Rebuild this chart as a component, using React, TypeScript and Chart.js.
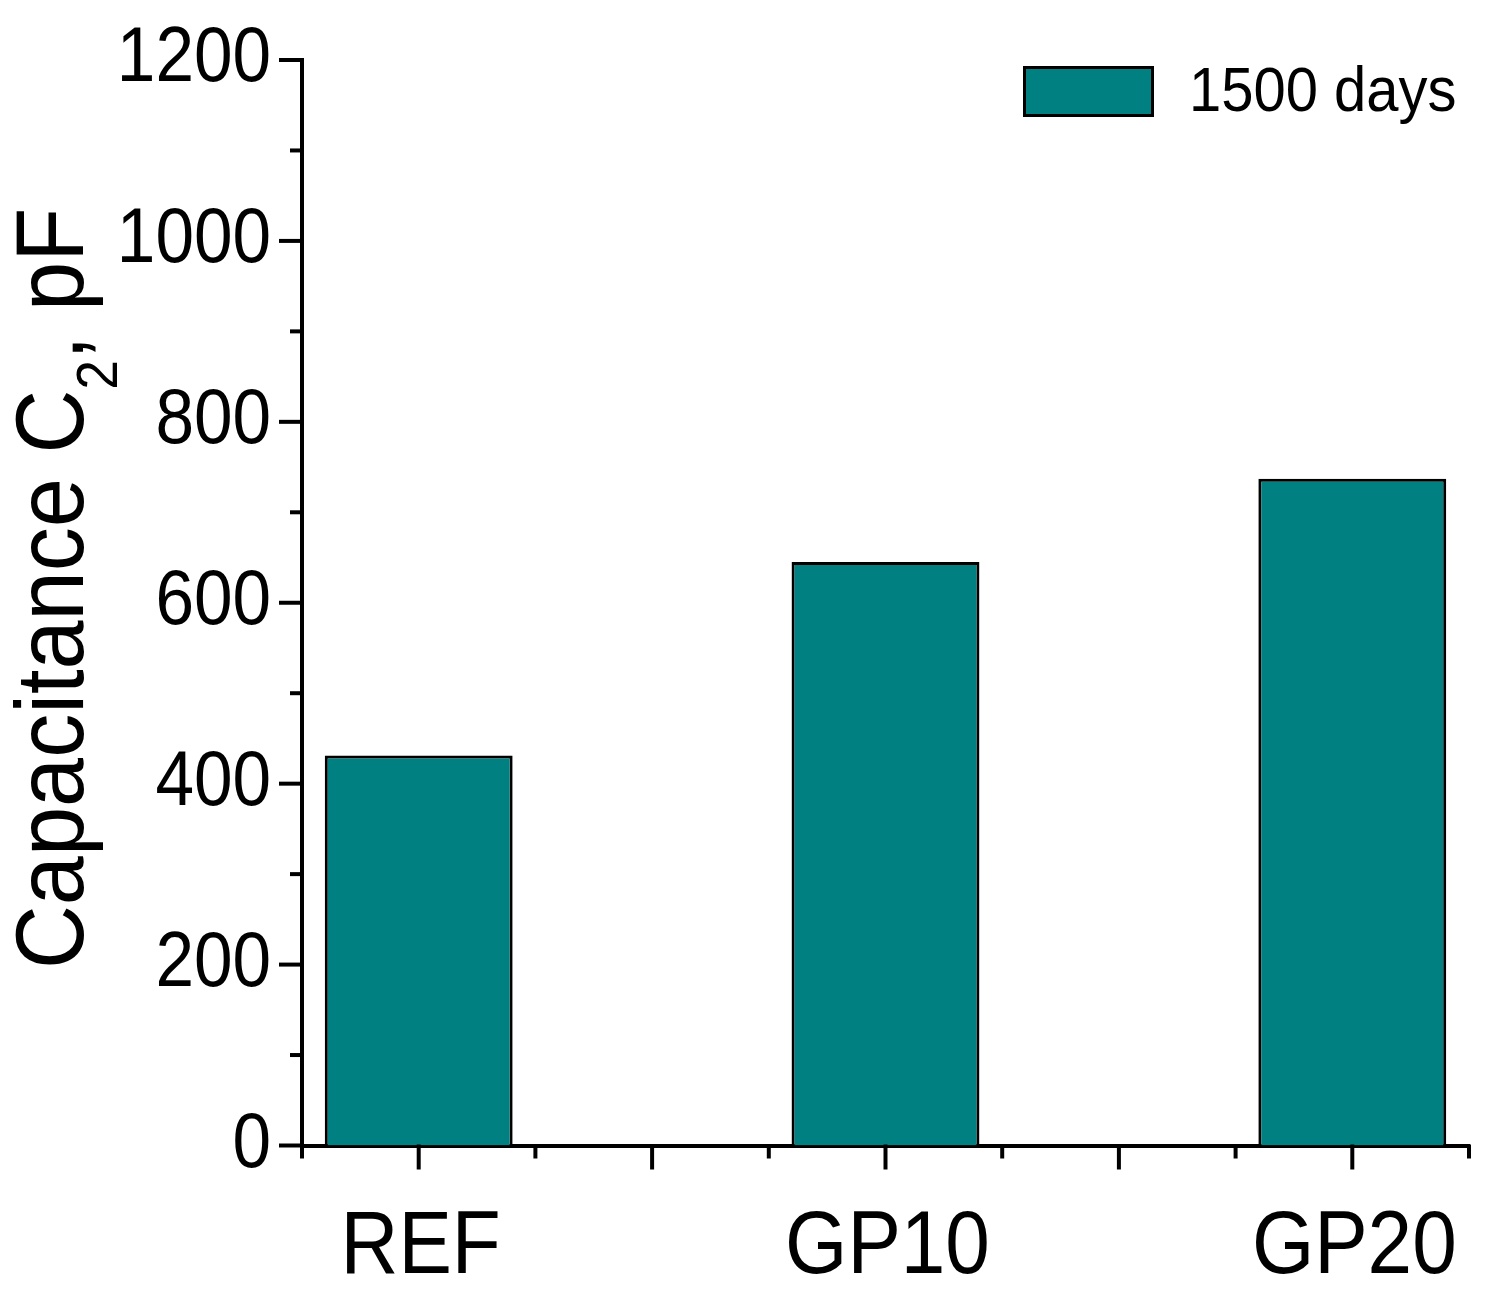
import React, { useEffect, useRef } from "react";
import { Chart, registerables } from "chart.js";

Chart.register(...registerables);

// data
const categories = ["REF", "GP10", "GP20"];
const categoryPositions = [1, 3, 5];
const capacitance = [431, 645, 737];
const seriesLabel = "1500 days";

const X_MIN = 0.5;
const X_MAX = 5.5;
const Y_MIN = 0;
const Y_MAX = 1200;
const Y_MAJOR = 200;
const Y_MINOR = 100;

const FONT = "'Liberation Sans', Arial, Helvetica, sans-serif";
const BAR_COLOR = "#008080";
const AXIS_W = 4;

// Origin-style axes: major/minor ticks, squeezed Arial labels, subscript title
const decorPlugin = {
  id: "originDecor",
  afterDraw(chart: any) {
    const { ctx, chartArea } = chart;
    const xs = chart.scales.x;
    const ys = chart.scales.y;
    const axisX = chartArea.left;
    const axisY = chartArea.bottom;

    ctx.save();
    ctx.strokeStyle = "#000";
    ctx.lineWidth = AXIS_W;
    ctx.lineCap = "butt";

    // y ticks
    for (let v = Y_MIN; v <= Y_MAX; v += Y_MINOR) {
      const py = ys.getPixelForValue(v);
      const len = v % Y_MAJOR === 0 ? 23 : 12;
      ctx.beginPath();
      ctx.moveTo(axisX + 1, py);
      ctx.lineTo(axisX - len, py);
      ctx.stroke();
    }
    // x ticks (major at integers, minor at halves)
    for (let v = X_MIN; v <= X_MAX + 1e-9; v += 0.5) {
      const px = xs.getPixelForValue(v);
      const len = Math.abs(v - Math.round(v)) < 1e-9 ? 24 : 13;
      ctx.beginPath();
      ctx.moveTo(px, axisY - 1);
      ctx.lineTo(px, axisY + len);
      ctx.stroke();
    }

    ctx.fillStyle = "#000";
    ctx.textBaseline = "alphabetic";

    // y tick labels
    ctx.font = `77px ${FONT}`;
    ys.ticks.forEach((t: any) => {
      const py = ys.getPixelForValue(t.value);
      ctx.save();
      ctx.translate(axisX - 31, py + 21);
      ctx.scale(0.9, 1);
      ctx.textAlign = "right";
      ctx.fillText(String(t.value), 0, 0);
      ctx.restore();
    });

    // x category labels
    ctx.font = `89px ${FONT}`;
    categories.forEach((c, i) => {
      const px = xs.getPixelForValue(categoryPositions[i]);
      ctx.save();
      ctx.translate(px + 2, axisY + 127);
      ctx.scale(0.9, 1);
      ctx.textAlign = "center";
      ctx.fillText(c, 0, 0);
      ctx.restore();
    });

    // legend
    const ds = chart.data.datasets[0];
    ctx.lineWidth = 3;
    ctx.fillStyle = ds.backgroundColor;
    ctx.fillRect(1024.5, 67.5, 128, 48);
    ctx.strokeRect(1024.5, 67.5, 128, 48);
    ctx.fillStyle = "#000";
    ctx.save();
    ctx.translate(1189, 111);
    ctx.scale(0.92, 1);
    ctx.textAlign = "left";
    ctx.font = `63px ${FONT}`;
    ctx.fillText(ds.label, 0, 0);
    ctx.restore();

    // y axis title with subscript
    ctx.save();
    ctx.translate(83, 969);
    ctx.rotate(-Math.PI / 2);
    ctx.scale(0.92, 1);
    ctx.textAlign = "left";
    let cx = 0;
    ctx.font = `96px ${FONT}`;
    ctx.fillText("Capacitance C", cx, 0);
    cx += ctx.measureText("Capacitance C").width;
    ctx.font = `58px ${FONT}`;
    ctx.fillText("2", cx, 34);
    cx += ctx.measureText("2").width;
    ctx.font = `96px ${FONT}`;
    ctx.fillText(", pF", cx, 0);
    ctx.restore();

    ctx.restore();
  },
};

const App: React.FC = () => {
  const canvasRef = useRef<HTMLCanvasElement | null>(null);
  const chartRef = useRef<Chart | null>(null);

  useEffect(() => {
    document.body.style.margin = "0";
    if (!canvasRef.current) return;
    if (chartRef.current) chartRef.current.destroy();

    chartRef.current = new Chart(canvasRef.current, {
      type: "bar",
      data: {
        datasets: [
          {
            label: seriesLabel,
            data: categoryPositions.map((x, i) => ({ x, y: capacitance[i] })),
            backgroundColor: BAR_COLOR,
            borderColor: "#000000",
            borderWidth: 3,
            barPercentage: 0.805,
            categoryPercentage: 1.0,
          },
        ],
      },
      options: {
        responsive: true,
        maintainAspectRatio: false,
        animation: false,
        layout: { padding: { top: 60, right: 25, bottom: 0, left: 0 } },
        plugins: {
          legend: { display: false },
          tooltip: { enabled: false },
        },
        scales: {
          x: {
            type: "linear",
            min: X_MIN,
            max: X_MAX,
            offset: false,
            grid: { display: false, drawTicks: false },
            border: { display: true, color: "#000", width: AXIS_W },
            ticks: { display: false, stepSize: 1 },
            afterFit: (s: any) => {
              s.height = 158.5;
            },
          },
          y: {
            type: "linear",
            min: Y_MIN,
            max: Y_MAX,
            grid: { display: false, drawTicks: false },
            border: { display: true, color: "#000", width: AXIS_W },
            ticks: { display: false, stepSize: Y_MAJOR },
            afterFit: (s: any) => {
              s.width = 302;
            },
          },
        },
      } as any,
      plugins: [decorPlugin],
    });

    return () => {
      if (chartRef.current) {
        chartRef.current.destroy();
        chartRef.current = null;
      }
    };
  }, []);

  return (
    <div style={{ position: "relative", width: "1494px", height: "1304px" }}>
      <canvas ref={canvasRef}></canvas>
    </div>
  );
};

export default App;
